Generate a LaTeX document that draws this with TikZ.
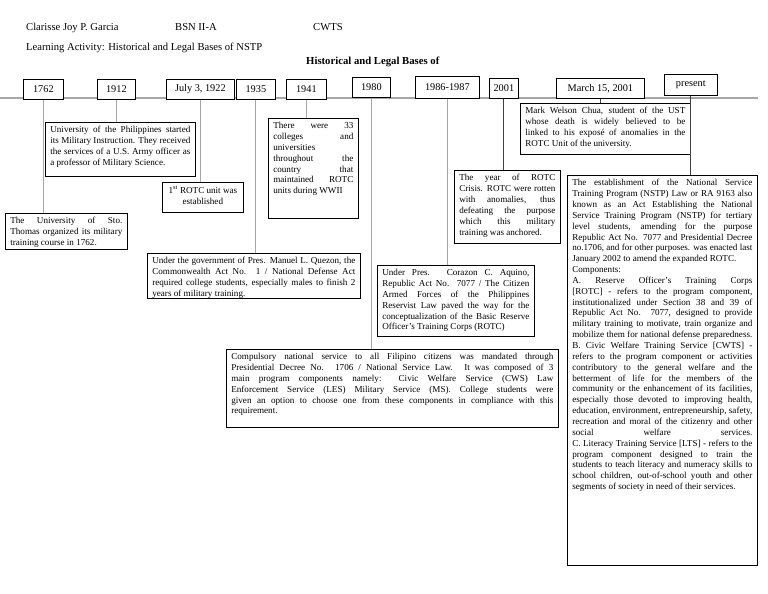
\documentclass[tikz,border=0pt]{standalone}
\usepackage{fontspec}
\setmainfont{Liberation Serif}
\newcommand\bxfont{\fontsize{9.1}{10.85}\selectfont}
\newsavebox\linebx
\newdimen\fitsize
% justified line: stretched to full width; a too long line gets a smaller font
\newcommand\jl[1]{\sbox\linebx{#1}\ifdim\wd\linebx>\linewidth
  \fitsize=\dimexpr 9.07pt*\number\linewidth/\number\wd\linebx\relax
  {\fontsize{\the\fitsize}{10.85pt}\selectfont\parfillskip=0pt\relax\noindent #1\par}%
  \else{\parfillskip=0pt\relax\noindent #1\par}\fi}
% ragged (last) line
\newcommand\rl[1]{\sbox\linebx{#1}\ifdim\wd\linebx>\linewidth
  \fitsize=\dimexpr 9.07pt*\number\linewidth/\number\wd\linebx\relax
  {\fontsize{\the\fitsize}{10.85pt}\selectfont\noindent #1\par}%
  \else{\noindent #1\par}\fi}
\newcommand\tb[3]{\parbox[c][#2pt][t]{#1pt}{\bxfont\setlength\parindent{0pt}\setlength\parskip{0pt}#3}}
\tikzset{
  tline/.style={draw=gray!70, line width=1.1pt},
  conn/.style={draw=gray!70, line width=1.1pt},
  connd/.style={draw=black!75, line width=0.9pt},
  datebox/.style={draw, line width=0.7pt, fill=white, anchor=north west, inner sep=0pt, font=\fontsize{10.3}{12}\selectfont},
  infobox/.style={draw, line width=0.7pt, fill=white, anchor=north west, inner xsep=5pt, inner ysep=4pt},
  hdr/.style={anchor=base west, inner sep=0pt, font=\fontsize{10.6}{13}\selectfont},
}
\begin{document}
\begin{tikzpicture}[x=1pt,y=-1pt]
\useasboundingbox (0,0) rectangle (768,594);
\fill[white] (0,0) rectangle (768,594);
% header
\node[hdr] (name) at (26,31) {Clarisse Joy P. Garcia};
\node[hdr] (sec) at (175,31) {BSN II-A};
\node[hdr] (subj) at (313,31) {CWTS};
\node[hdr] (act) at (26,51) {Learning Activity: Historical and Legal Bases of NSTP};
\node[hdr, font=\fontsize{10.7}{13}\selectfont\bfseries] (title) at (306,65) {Historical and Legal Bases of};
% timeline
\coordinate (tls) at (0,98);
\coordinate (tle) at (758,98);
\draw[tline] (tls) -- (tle);
% date boxes
\node[datebox, minimum width=40pt, minimum height=20pt] (d1762) at (23,79) {1762};
\node[datebox, minimum width=38pt, minimum height=20pt] (d1912) at (97,79) {1912};
\node[datebox, minimum width=68pt, minimum height=20pt] (d1922) at (166,79) {July 3, 1922};
\node[datebox, minimum width=39pt, minimum height=20pt] (d1935) at (236,79) {1935};
\node[datebox, minimum width=40pt, minimum height=20pt] (d1941) at (286,79) {1941};
\node[datebox, minimum width=38pt, minimum height=20pt] (d1980) at (352,77) {1980};
\node[datebox, minimum width=64pt, minimum height=22pt] (d1986) at (415,76) {1986-1987};
\node[datebox, minimum width=29pt, minimum height=20pt] (d2001) at (489,78) {2001};
\node[datebox, minimum width=88pt, minimum height=20pt] (dmar) at (556,78) {March 15, 2001};
\node[datebox, minimum width=53pt, minimum height=21pt] (dpres) at (664,74) {present};
% info boxes
\node[infobox] (ust) at (5,213) {\tb{112}{28}{%
\jl{The University of Sto.}
\jl{Thomas organized its military}
\rl{training course in 1762.}}};
\node[infobox] (up) at (45,122) {\tb{140}{46}{%
\jl{University of the Philippines started}
\jl{its Military Instruction. They received}
\jl{the services of a U.S. Army officer as}
\rl{a professor of Military Science.}}};
\node[infobox] (rotc1) at (162,182) {\tb{71}{22}{\centering
1\textsuperscript{st} ROTC unit was\\ established\par}};
\node[infobox] (ww2) at (268,118) {\tb{80}{92}{%
\jl{There were 33}
\jl{colleges and}
\rl{universities}
\jl{throughout the}
\jl{country that}
\jl{maintained ROTC}
\rl{units during WWII}}};
\node[infobox] (quezon) at (147,253) {\tb{203}{37}{%
\jl{Under the government of Pres. Manuel L. Quezon, the}
\jl{Commonwealth Act No. 1 / National Defense Act}
\jl{required college students, especially males to finish 2}
\rl{years of military training.}}};
\node[infobox] (aquino) at (377,265) {\tb{147}{63}{%
\jl{Under Pres. Corazon C. Aquino,}
\jl{Republic Act No. 7077 / The Citizen}
\jl{Armed Forces of the Philippines}
\jl{Reservist Law paved the way for the}
\jl{conceptualization of the Basic Reserve}
\rl{Officer’s Training Corps (ROTC)}}};
\node[infobox] (comp) at (226,349) {\tb{322}{70}{%
\jl{Compulsory national service to all Filipino citizens was mandated through}
\jl{Presidential Decree No. 1706 / National Service Law. It was composed of 3}
\jl{main program components namely: Civic Welfare Service (CWS) Law}
\jl{Enforcement Service (LES) Military Service (MS). College students were}
\jl{given an option to choose one from these components in compliance with this}
\rl{requirement.}}};
\node[infobox] (crisis) at (454,170) {\tb{96}{65}{%
\jl{The year of ROTC}
\jl{Crisis. ROTC were rotten}
\jl{with anomalies, thus}
\jl{defeating the purpose}
\jl{which this military}
\rl{training was anchored.}}};
\node[infobox] (mark) at (520,103) {\tb{160}{43}{%
\jl{Mark Welson Chua, student of the UST}
\jl{whose death is widely believed to be}
\jl{linked to his exposé of anomalies in the}
\rl{ROTC Unit of the university.}}};
\node[infobox] (nstp) at (567,175) {\tb{180}{382}{%
\jl{The establishment of the National Service}
\jl{Training Program (NSTP) Law or RA 9163 also}
\jl{known as an Act Establishing the National}
\jl{Service Training Program (NSTP) for tertiary}
\jl{level students, amending for the purpose}
\jl{Republic Act No. 7077 and Presidential Decree}
\jl{no.1706, and for other purposes. was enacted last}
\rl{January 2002 to amend the expanded ROTC.}
\rl{Components:}
\jl{A. Reserve Officer’s Training Corps}
\jl{[ROTC] - refers to the program component,}
\jl{institutionalized under Section 38 and 39 of}
\jl{Republic Act No. 7077, designed to provide}
\jl{military training to motivate, train organize and}
\jl{mobilize them for national defense preparedness.}
\jl{B. Civic Welfare Training Service [CWTS] -}
\jl{refers to the program component or activities}
\jl{contributory to the general welfare and the}
\jl{betterment of life for the members of the}
\jl{community or the enhancement of its facilities,}
\jl{especially those devoted to improving health,}
\jl{education, environment, entrepreneurship, safety,}
\jl{recreation and moral of the citizenry and other}
\jl{social welfare services.}
\jl{C. Literacy Training Service [LTS] - refers to the}
\jl{program component designed to train the}
\jl{students to teach literacy and numeracy skills to}
\jl{school children, out-of-school youth and other}
\rl{segments of society in need of their services.}}};
% connectors
\draw[conn] (d1762.south) -- (d1762.south |- ust.north);
\draw[conn] (d1912.south) -- (d1912.south |- up.north);
\draw[conn] (d1922.south) -- (d1922.south |- rotc1.north);
\draw[conn] (d1935.south) -- (d1935.south |- quezon.north);
\draw[conn] (d1941.south) -- (d1941.south |- ww2.north);
\draw[conn] (d1980.south) -- (d1980.south |- comp.north);
\draw[conn] (d1986.south) -- (d1986.south |- aquino.north);
\draw[connd] (d2001.south) -- (d2001.south |- crisis.north);
\draw[connd] (dmar.south) -- (dmar.south |- mark.north);
\draw[connd] (dpres.south) -- (dpres.south |- nstp.north);
\end{tikzpicture}
\end{document}
